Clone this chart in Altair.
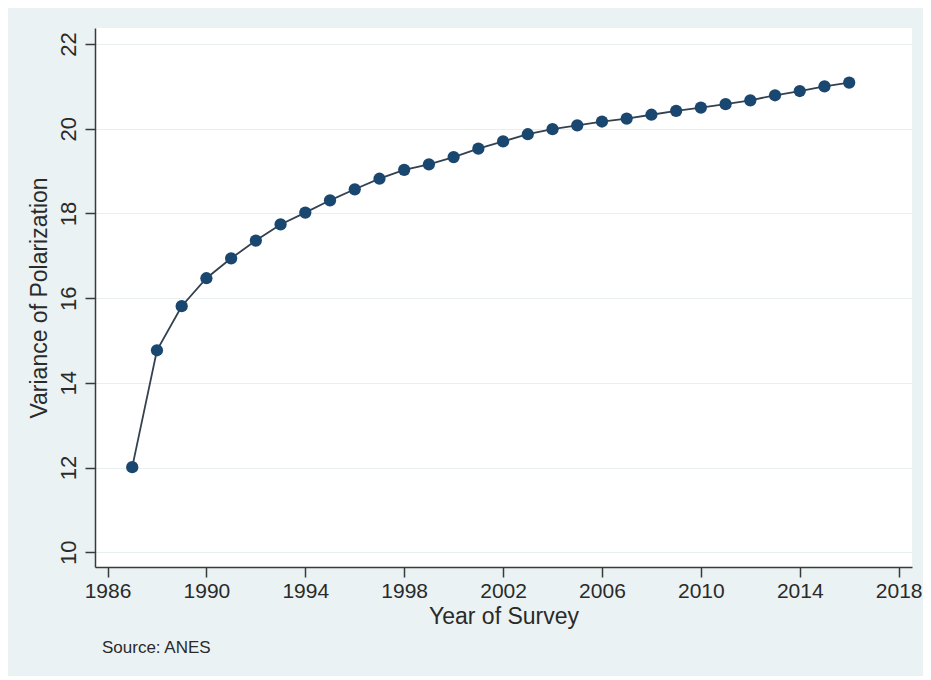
import altair as alt
import pandas as pd

years = list(range(1987, 2017))
variance = [12.01, 14.77, 15.81, 16.47, 16.94, 17.36, 17.74, 18.02, 18.31, 18.57,
            18.82, 19.03, 19.16, 19.33, 19.53, 19.70, 19.87, 19.99, 20.08, 20.17,
            20.24, 20.33, 20.42, 20.50, 20.58, 20.67, 20.79, 20.89, 21.00, 21.09]
x_ticks = list(range(1986, 2019, 4))
y_ticks = list(range(10, 23, 2))
source_note = ["Source: ANES"]

df = pd.DataFrame({"year": years, "variance": variance})

FONT = "Liberation Sans"
NAVY = "#1A476F"

x_enc = alt.X("year:Q", title="Year of Survey",
              scale=alt.Scale(domain=[1985.494, 2018.54], nice=False, zero=False),
              axis=alt.Axis(values=x_ticks, format="d", grid=False,
                            tickSize=10, labelPadding=3, titlePadding=4,
                            labelFontSize=21, titleFontSize=23,
                            labelFont=FONT, titleFont=FONT,
                            labelColor="#2a2a2a", titleColor="#2a2a2a",
                            titleFontWeight="normal",
                            domainColor="#3a3a3a", tickColor="#3a3a3a",
                            domainWidth=1.5, tickWidth=1.5,
                            labelFlush=False, labelOverlap=False))
y_enc = alt.Y("variance:Q", title="Variance of Polarization",
              scale=alt.Scale(domain=[9.653, 22.378], nice=False, zero=False),
              axis=alt.Axis(values=y_ticks, format="d", grid=True,
                            gridColor="#E9EEF0", gridWidth=1.2,
                            tickSize=10, labelPadding=5, titlePadding=6,
                            labelAngle=270, labelAlign="center", labelBaseline="bottom",
                            labelFontSize=22, titleFontSize=23,
                            labelFont=FONT, titleFont=FONT,
                            labelColor="#2a2a2a", titleColor="#2a2a2a",
                            titleFontWeight="normal",
                            domainColor="#3a3a3a", tickColor="#3a3a3a",
                            domainWidth=1.5, tickWidth=1.5,
                            labelFlush=False))

base = alt.Chart(df)
line = base.mark_line(color="#34414f", strokeWidth=1.8).encode(x=x_enc, y=y_enc)
points = base.mark_circle(color=NAVY, opacity=1, size=150).encode(x=x_enc, y=y_enc)

note = alt.Chart(pd.DataFrame({"t": source_note})).mark_text(
    align="left", baseline="alphabetic", font=FONT, fontSize=17, color="#2a2a2a"
).encode(text="t:N", x=alt.value(7), y=alt.value(625))

chart = alt.layer(line, points, note).properties(
    width=817, height=539,
    background="#EAF2F3",
    padding={"left": 87, "top": 20, "right": 11, "bottom": 109},
    autosize=alt.AutoSizeParams(type="none"),
).configure_view(fill="white", stroke=None)

chart.save("out.html", embed_options={"renderer": "svg", "actions": False})
